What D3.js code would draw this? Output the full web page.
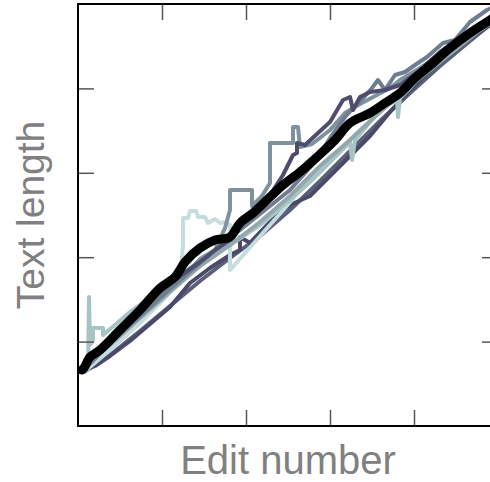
<!DOCTYPE html>
<html>
<head>
<meta charset="utf-8">
<script src="https://cdn.jsdelivr.net/npm/d3@7"></script>
<style>
  body { margin: 0; background: #fff; }
  text { font-family: "Liberation Sans", Arial, sans-serif; }
</style>
</head>
<body>
<div id="chart"></div>
<script>
// edit number vs text length, one line per revision history
var xMax = 420, yMax = 4220;

// each series: [edit number, text length]
var purpleLow = [[2,540],[17,600],[32,700],[52,850],[72,1020],[92,1190],[112,1430],[132,1580],[152,1710],[162,1760],[162,1890],[172,1830],[192,2040],[212,2210],[232,2300],[252,2500],[272,2700],[292,2900],[312,3140],[332,3360],[352,3560],[372,3730],[392,3880],[420,4060]];
var purpleHigh = [[6,610],[22,780],[42,960],[62,1140],[82,1340],[102,1500],[122,1640],[137,1760],[152,1860],[162,2000],[177,2160],[192,2310],[205,2510],[215,2710],[219,2730],[219,2830],[227,2810],[240,2930],[252,3040],[265,3260],[272,3290],[275,3160],[282,3290],[292,3340],[307,3360],[322,3410],[342,3560],[362,3740],[382,3880],[402,4010],[420,4110]];
var grayStep = [[6,580],[17,700],[32,850],[52,1030],[72,1220],[87,1350],[100,1450],[112,1560],[122,1670],[137,1760],[147,1980],[152,2160],[152,2360],[174,2360],[174,2200],[184,2300],[192,2430],[192,2830],[215,2830],[215,2990],[220,2990],[222,2790],[234,2820],[252,2960],[267,3130],[282,3220],[297,3300],[312,3380],[322,3460],[342,3580],[362,3710],[382,3840],[397,3940],[412,4040],[420,4100]];
var slateWiggle = [[6,560],[32,830],[62,1100],[92,1370],[122,1630],[152,1880],[182,2120],[212,2360],[237,2640],[252,2880],[267,3090],[277,3200],[287,3300],[294,3380],[300,3460],[307,3360],[317,3510],[327,3540],[337,3610],[349,3690],[365,3830],[377,3860],[392,4040],[409,4160],[420,4210]];
var tealSpike = [[4,540],[10,560],[11,1290],[12,810],[15,860],[15,980],[25,980],[25,910],[37,1010],[52,1140],[72,1280],[92,1410],[112,1580],[132,1710],[152,1810],[182,2010],[212,2260],[232,2440],[252,2640],[272,2840],[274,2660],[277,2860],[292,3040],[307,3200],[319,3260],[320,3090],[322,3280],[332,3380],[347,3560],[362,3700],[377,3810],[392,3920],[407,4040],[420,4120]];
var cyanPlateau = [[6,540],[32,760],[62,1030],[87,1280],[102,1460],[105,1810],[105,2080],[110,2080],[112,2150],[118,2150],[120,2090],[127,2090],[130,2030],[137,2070],[142,2030],[148,2040],[152,2010],[152,1560],[207,2180],[222,2360],[242,2560],[262,2760],[282,2960],[302,3140],[322,3300],[342,3500],[362,3670],[382,3810],[402,3960],[420,4080]];
var blueGray = [[6,600],[32,810],[62,1080],[92,1340],[122,1600],[152,1810],[182,2040],[212,2300],[242,2600],[272,2860],[302,3140],[332,3400],[362,3640],[392,3880],[420,4100]];
var slateLow = [[6,540],[32,710],[62,950],[92,1200],[122,1450],[152,1680],[182,1900],[212,2160],[242,2450],[272,2750],[302,3050],[332,3330],[362,3600],[392,3850],[420,4080]];

var series = [slateLow, purpleLow, cyanPlateau, tealSpike, blueGray, grayStep, slateWiggle, purpleHigh];
var seriesColors = ["#5b6079", "#4b4969", "#c6dddd", "#a7c4c4", "#93a7ad", "#7f919c", "#6f7d90", "#4e4d6e"];

// mean text length
var meanLine = [[4,560],[6,580],[12,690],[22,760],[42,960],[62,1160],[82,1380],[97,1490],[107,1640],[122,1780],[137,1860],[152,1890],[162,2030],[175,2130],[192,2290],[205,2410],[222,2540],[239,2690],[257,2860],[272,3030],[292,3130],[307,3230],[322,3330],[337,3480],[355,3630],[372,3780],[392,3930],[412,4060],[422,4130]];

var margin = {top: 4, right: -8, bottom: 56, left: 78},
    width = 490 - margin.left - margin.right,
    height = 482 - margin.top - margin.bottom;

var x = d3.scaleLinear().domain([0, xMax]).range([0, width]);
var y = d3.scaleLinear().domain([0, yMax]).range([height, 0]);

var xTicks = d3.range(1, 5).map(function(i) { return xMax / 5 * i; });
var yTicks = d3.range(1, 5).map(function(i) { return yMax / 5 * i; });

var svg = d3.select("#chart")
  .append("svg")
    .attr("width", 490)
    .attr("height", 482)
  .append("g")
    .attr("transform", "translate(" + margin.left + "," + margin.top + ")");

svg.append("clipPath").attr("id", "clip")
  .append("rect").attr("width", width).attr("height", height);

var line = d3.line()
  .x(function(d) { return x(d[0]); })
  .y(function(d) { return y(d[1]); });

var plot = svg.append("g").attr("clip-path", "url(#clip)");

plot.selectAll(".run")
    .data(series)
  .enter().append("path")
    .attr("class", "run")
    .attr("d", line)
    .attr("fill", "none")
    .attr("stroke", function(d, i) { return seriesColors[i]; })
    .attr("stroke-width", 4)
    .attr("stroke-linejoin", "round")
    .attr("stroke-linecap", "round");

plot.append("path")
    .datum(meanLine)
    .attr("d", line.curve(d3.curveCatmullRom))
    .attr("fill", "none")
    .attr("stroke", "#000")
    .attr("stroke-width", 9)
    .attr("stroke-linejoin", "round")
    .attr("stroke-linecap", "round");

// ticks on all four sides, pointing inward, no labels
function ticks(g) {
  g.select(".domain").remove();
  g.selectAll(".tick line").attr("stroke", "#555").attr("stroke-width", 1.5);
}
svg.append("g").attr("transform", "translate(0," + height + ")")
  .call(d3.axisBottom(x).tickValues(xTicks).tickFormat("").tickSizeInner(-16).tickSizeOuter(0)).call(ticks);
svg.append("g")
  .call(d3.axisTop(x).tickValues(xTicks).tickFormat("").tickSizeInner(-16).tickSizeOuter(0)).call(ticks);
svg.append("g")
  .call(d3.axisLeft(y).tickValues(yTicks).tickFormat("").tickSizeInner(-16).tickSizeOuter(0)).call(ticks);
svg.append("g").attr("transform", "translate(" + width + ",0)")
  .call(d3.axisRight(y).tickValues(yTicks).tickFormat("").tickSizeInner(-16).tickSizeOuter(0)).call(ticks);

svg.append("rect")
    .attr("width", width)
    .attr("height", height)
    .attr("fill", "none")
    .attr("stroke", "#000")
    .attr("stroke-width", 2);

svg.append("text")
    .attr("x", width / 2)
    .attr("y", height + 48)
    .attr("text-anchor", "middle")
    .attr("fill", "#808080")
    .style("font-size", "40px")
    .text("Edit number");

svg.append("text")
    .attr("transform", "rotate(-90)")
    .attr("x", -height / 2)
    .attr("y", -34)
    .attr("text-anchor", "middle")
    .attr("fill", "#808080")
    .style("font-size", "39px")
    .text("Text length");
</script>
</body>
</html>
